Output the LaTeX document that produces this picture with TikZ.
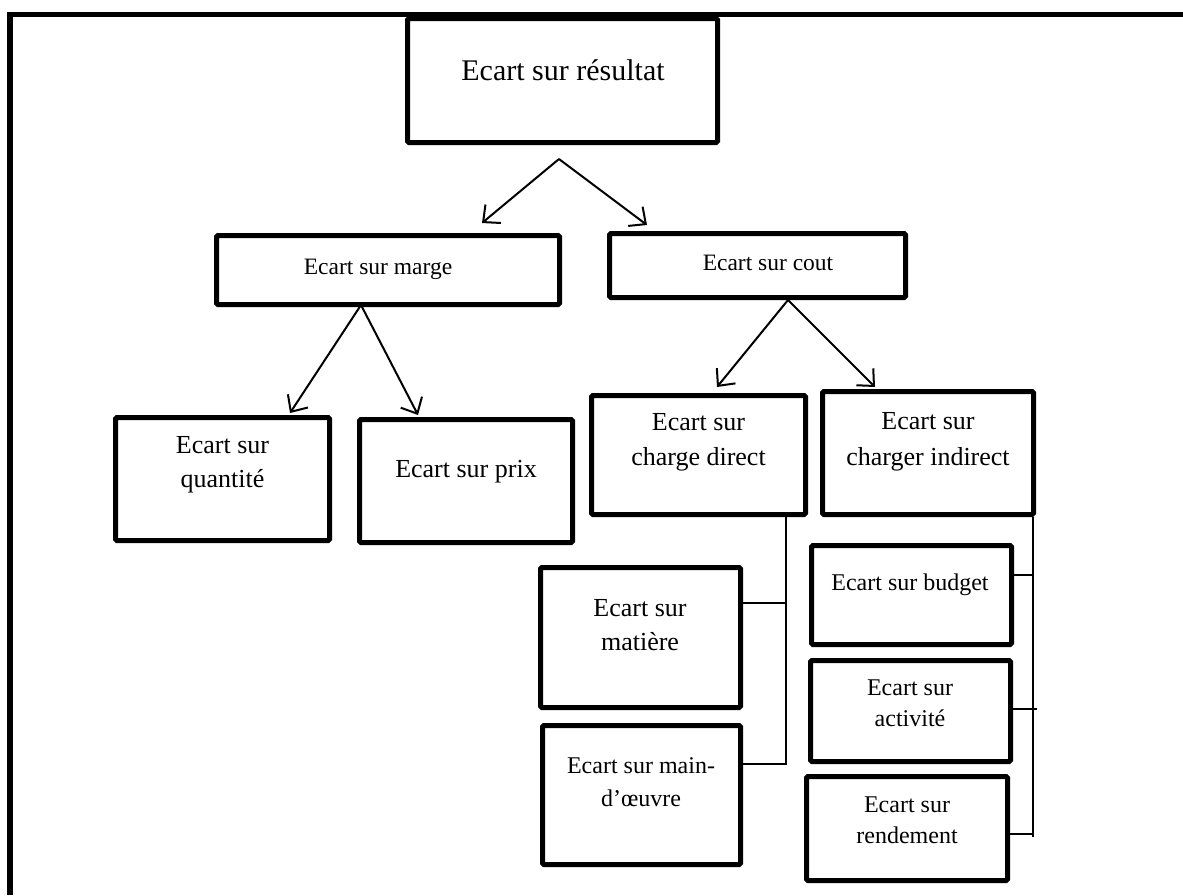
\documentclass[tikz,border=0pt]{standalone}
\usepackage{fontspec}
\setmainfont{Liberation Serif}
\usetikzlibrary{arrows.meta}
\newcommand{\fs}[2]{\fontsize{#1}{#2}\selectfont}
\newcommand{\topline}{\rule{0pt}{25pt}}
\begin{document}
\begin{tikzpicture}[x=1pt,y=-1pt,
  box/.style={draw, line width=5pt, rounded corners=1.5pt, inner sep=0pt},
  lbl/.style={anchor=north, align=center, inner sep=0pt},
  arr/.style={line width=2pt, -{Straight Barb[length=13pt,width=24pt,line width=2pt]}},
  tree/.style={line width=1.6pt}]
\useasboundingbox (0,0) rectangle (1183,895);

% page frame (top and left edges only)
\draw[line width=5.5pt] (10,895) -- (10,14.5) -- (1183,14.5);

% boxes
\node[box, minimum width=310pt, minimum height=124pt] (res) at (562.5,80.5) {};
\node[box, minimum width=343pt, minimum height=69pt] (marge) at (388,270) {};
\node[box, minimum width=296pt, minimum height=64pt] (cout) at (757.5,265.5) {};
\node[box, minimum width=214pt, minimum height=123pt] (quant) at (222.5,479) {};
\node[box, minimum width=213pt, minimum height=123pt] (prix) at (466,481) {};
\node[box, minimum width=214pt, minimum height=119pt] (direct) at (698.5,455) {};
\node[box, minimum width=211pt, minimum height=123pt] (indirect) at (928,453) {};
\node[box, minimum width=200pt, minimum height=140pt] (matiere) at (640.5,637.5) {};
\node[box, minimum width=198pt, minimum height=139pt] (mo) at (641.5,795) {};
\node[box, minimum width=200pt, minimum height=99pt] (budget) at (911.5,595) {};
\node[box, minimum width=200pt, minimum height=101pt] (activite) at (910.5,711) {};
\node[box, minimum width=201pt, minimum height=104pt] (rend) at (907,828.5) {};

% labels (first baseline sits 25pt below each anchor point)
\node[lbl, font=\fs{30}{36}] (tres) at (563,55) {\topline Ecart sur résultat};
\node[lbl, font=\fs{23.5}{30}] (tmarge) at (378,249) {\topline Ecart sur marge};
\node[lbl, font=\fs{23.5}{30}] (tcout) at (768,245) {\topline Ecart sur cout};
\node[lbl, font=\fs{26}{34}] (tquant) at (222.5,428) {\topline Ecart sur\\quantité};
\node[lbl, font=\fs{26}{32}] (tprix) at (466,452) {\topline Ecart sur prix};
\node[lbl, font=\fs{26}{35}] (tdirect) at (698.5,405) {\topline Ecart sur\\charge direct};
\node[lbl, font=\fs{26}{36}] (tindirect) at (928,404) {\topline Ecart sur\\charger indirect};
\node[lbl, font=\fs{26}{34}] (tmatiere) at (640,591) {\topline Ecart sur\\matière};
\node[lbl, font=\fs{24}{33}] (tmo) at (641,748) {\topline Ecart sur main-\\d’œuvre};
\node[lbl, font=\fs{24}{29}] (tbudget) at (910,565) {\topline Ecart sur budget};
\node[lbl, font=\fs{24}{31}] (tactivite) at (910,670) {\topline Ecart sur\\activité};
\node[lbl, font=\fs{24}{31}] (trend) at (907,787) {\topline Ecart sur\\rendement};

% arrows
\coordinate (r0) at (559,159);
\coordinate (r1) at (482,223);
\coordinate (r2) at (647,225);
\draw[arr] (r0) -- (r1);
\draw[arr] (r0) -- (r2);

\coordinate (m0) at (361,305);
\coordinate (m1) at (290,413);
\coordinate (m2) at (418,415);
\draw[arr] (m0) -- (m1);
\draw[arr] (m0) -- (m2);

\coordinate (c0) at (788,300);
\coordinate (c1) at (717,387);
\coordinate (c2) at (875,387);
\draw[arr] (c0) -- (c1);
\draw[arr] (c0) -- (c2);

% direct cost branches
\coordinate (dTop) at (786,515);
\coordinate (dMat) at (786,603);
\coordinate (dMo) at (786,764);
\draw[tree] (direct.south -| dTop) -- (786,765);
\draw[tree] (matiere.east |- dMat) -- (dMat);
\draw[tree] (mo.east |- dMo) -- (dMo);

% indirect cost branches
\coordinate (iBot) at (1033,837);
\coordinate (iBud) at (1033,575);
\coordinate (iAct) at (1037,709);
\coordinate (iRen) at (1033,834);
\draw[tree] (indirect.south -| iBot) -- (iBot);
\draw[tree] (budget.east |- iBud) -- (iBud);
\draw[tree] (activite.east |- iAct) -- (iAct);
\draw[tree] (rend.east |- iRen) -- (iRen);
\end{tikzpicture}
\end{document}
